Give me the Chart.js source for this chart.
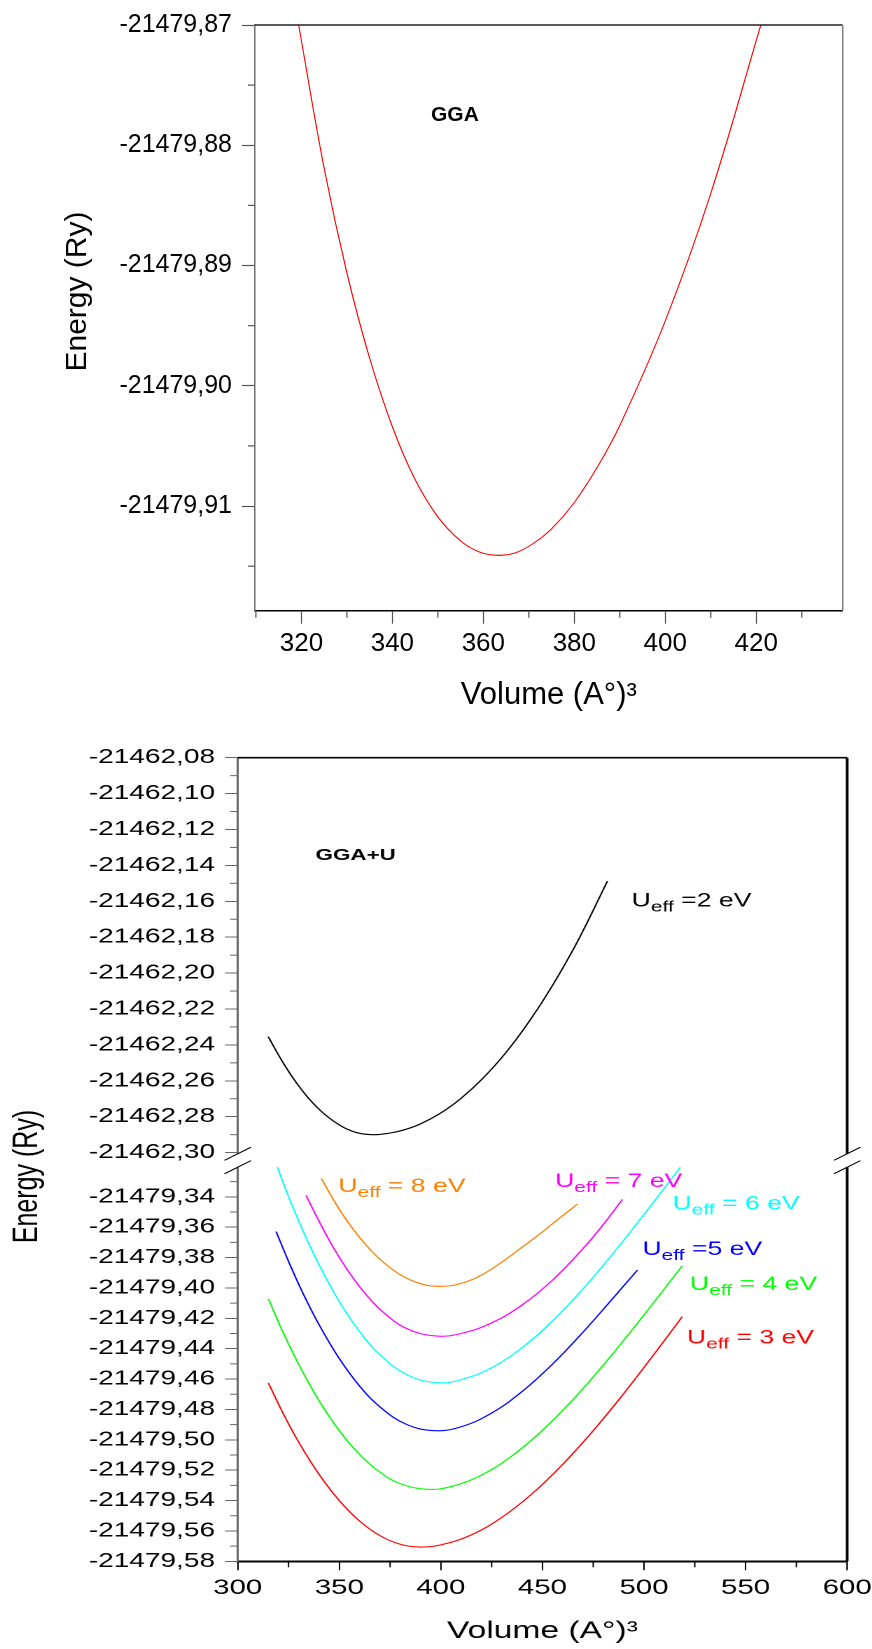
<!DOCTYPE html>
<html>
<head>
<meta charset="utf-8">
<script src="https://cdn.jsdelivr.net/npm/chart.js@4.4.1/dist/chart.umd.min.js"></script>
<style>
  html, body { margin: 0; padding: 0; background: #fff; overflow: hidden; }
  body { width: 872px; height: 1649px; position: relative; }
  #gga { position: absolute; left: 0; top: 0; }
  /* the GGA+U panel of the original is horizontally stretched */
  #ggau { position: absolute; left: 0; top: 720px; transform: scaleX(1.4); transform-origin: 0 0; }
</style>
</head>
<body>
<canvas id="gga" width="872" height="720"></canvas>
<canvas id="ggau" width="640" height="929"></canvas>
<script>
// ---- GGA panel ----
const ggaVol = [319.4, 325, 330, 335, 340, 345, 350, 355, 359, 363.1, 367, 371, 375, 380, 385, 390, 400, 410, 421];
const ggaEnergy = [-21479.8700, -21479.8819, -21479.8906, -21479.8977, -21479.9034, -21479.9078, -21479.9109,
  -21479.9129, -21479.9138, -21479.9141, -21479.9139, -21479.9131, -21479.9119, -21479.9097, -21479.9068,
  -21479.9033, -21479.8946, -21479.8840, -21479.8700];
const ggaXTicks = [320, 340, 360, 380, 400, 420];
const ggaXMinor = [310, 330, 350, 370, 390, 410, 430];
const ggaYTicks = [-21479.87, -21479.88, -21479.89, -21479.90, -21479.91];
const ggaYMinor = [-21479.875, -21479.885, -21479.895, -21479.905, -21479.915];

// ---- GGA+U panel ----
const u2Vol = [315, 322, 330, 340, 350, 358, 366, 374, 382, 390, 400, 410, 420, 432, 443.8, 455, 468, 482];
const u2Energy = [-21462.2354, -21462.2493, -21462.2628, -21462.2758, -21462.2846, -21462.2887, -21462.2900,
  -21462.2893, -21462.2873, -21462.2840, -21462.2779, -21462.2697, -21462.2594, -21462.2443, -21462.2264,
  -21462.2068, -21462.1808, -21462.1487];

const u3Vol = [315.1, 322, 330, 340, 350, 360, 370, 380, 389.7, 400, 415, 430, 445, 460, 475, 490, 505, 518.8];
const u3Energy = [-21479.4626, -21479.4817, -21479.5015, -21479.5227, -21479.5400, -21479.5535, -21479.5631,
  -21479.5688, -21479.5706, -21479.5692, -21479.5626, -21479.5511, -21479.5354, -21479.5161, -21479.4940,
  -21479.4696, -21479.4436, -21479.4190];

const u4Vol = [315.1, 322, 330, 340, 350, 360, 370, 380, 393.5, 405, 420, 435, 450, 465, 480, 495, 508, 518.8];
const u4Energy = [-21479.4072, -21479.4283, -21479.4503, -21479.4742, -21479.4940, -21479.5097, -21479.5213,
  -21479.5289, -21479.5326, -21479.5308, -21479.5232, -21479.5106, -21479.4938, -21479.4736, -21479.4508,
  -21479.4262, -21479.4041, -21479.3855];

const u5Vol = [318.9, 325, 332, 340, 350, 360, 370, 383, 397, 410, 425, 440, 455, 470, 484, 496.8];
const u5Energy = [-21479.3629, -21479.3825, -21479.4032, -21479.4241, -21479.4465, -21479.4646, -21479.4783,
  -21479.4898, -21479.4940, -21479.4914, -21479.4824, -21479.4682, -21479.4501, -21479.4291, -21479.4079, -21479.3882];

const u6Vol = [319.5, 325, 332, 340, 350, 360, 370, 384, 398.5, 410, 425, 440, 455, 470, 485, 500, 510, 517.9];
const u6Energy = [-21479.3205, -21479.3398, -21479.3620, -21479.3847, -21479.4090, -21479.4288, -21479.4440,
  -21479.4576, -21479.4624, -21479.4604, -21479.4525, -21479.4393, -21479.4217, -21479.4006, -21479.3769,
  -21479.3516, -21479.3343, -21479.3205];

const u7Vol = [333.6, 340, 347, 355, 364, 373, 384, 398, 410, 425, 440, 455, 470, 480, 489.4];
const u7Energy = [-21479.3390, -21479.3560, -21479.3732, -21479.3901, -21479.4057, -21479.4176, -21479.4273,
  -21479.4317, -21479.4300, -21479.4230, -21479.4112, -21479.3948, -21479.3741, -21479.3582, -21479.3417];

const u8Vol = [341.2, 348, 355, 363, 371, 380, 389, 399.2, 410, 420, 429.4, 438, 447.4, 457, 467.2];
const u8Energy = [-21479.3280, -21479.3439, -21479.3580, -21479.3715, -21479.3823, -21479.3913, -21479.3968,
  -21479.3990, -21479.3970, -21479.3915, -21479.3836, -21479.3752, -21479.3658, -21479.3556, -21479.3448];

const ggauXTicks = [300, 350, 400, 450, 500, 550, 600];
const ggauXMinor = [325, 375, 425, 475, 525, 575];
const ggauYHighTicks = [-21462.08, -21462.10, -21462.12, -21462.14, -21462.16, -21462.18, -21462.20,
  -21462.22, -21462.24, -21462.26, -21462.28, -21462.30];
const ggauYHighMinor = [-21462.09, -21462.11, -21462.13, -21462.15, -21462.17, -21462.19, -21462.21,
  -21462.23, -21462.25, -21462.27, -21462.29];
const ggauYLowTicks = [-21479.34, -21479.36, -21479.38, -21479.40, -21479.42, -21479.44, -21479.46,
  -21479.48, -21479.50, -21479.52, -21479.54, -21479.56, -21479.58];
const ggauYLowMinor = [-21479.33, -21479.35, -21479.37, -21479.39, -21479.41, -21479.43, -21479.45,
  -21479.47, -21479.49, -21479.51, -21479.53, -21479.55, -21479.57];

const FONT = '"Liberation Sans", Arial, sans-serif';
Chart.defaults.font.family = FONT;
Chart.defaults.color = '#000';

function pts(xs, ys) {
  return xs.map((x, i) => ({ x: x, y: ys[i] }));
}
function fixedTicks(values) {
  return function (scale) { scale.ticks = values.map(v => ({ value: v })); };
}
function commaLabel(v) {
  return v.toFixed(2).replace('.', ',');
}
function curve(xs, ys, color, axis) {
  return {
    data: pts(xs, ys), yAxisID: axis, borderColor: color, borderWidth: 1.1,
    pointRadius: 0, fill: false, tension: 0.4
  };
}

// minor ticks, top/right frame, axis break, in-plot labels and the y title
function makeDecor(cfg) {
  return {
    id: 'decor',
    afterDraw(chart) {
      const ctx = chart.ctx;
      const area = chart.chartArea;
      ctx.save();

      cfg.minor.forEach(m => {
        const s = chart.scales[m.axis];
        ctx.strokeStyle = m.color;
        ctx.lineWidth = m.width;
        m.values.forEach(v => {
          const p = s.getPixelForValue(v);
          ctx.beginPath();
          if (s.isHorizontal()) {
            ctx.moveTo(p, area.bottom);
            ctx.lineTo(p, area.bottom + m.len);
          } else {
            ctx.moveTo(area.left, p);
            ctx.lineTo(area.left - m.len, p);
          }
          ctx.stroke();
        });
      });

      ctx.strokeStyle = cfg.frame.top.color;
      ctx.lineWidth = cfg.frame.top.width;
      ctx.beginPath();
      ctx.moveTo(area.left, area.top);
      ctx.lineTo(area.right, area.top);
      ctx.stroke();
      ctx.strokeStyle = cfg.frame.right.color;
      ctx.lineWidth = cfg.frame.right.width;
      ctx.beginPath();
      ctx.moveTo(area.right, area.top);
      ctx.lineTo(area.right, area.bottom);
      ctx.stroke();

      if (cfg.brk) {
        const b = cfg.brk;
        const yb = chart.scales[b.axis].top;
        [area.left, area.right].forEach(x => {
          ctx.fillStyle = '#fff';
          ctx.fillRect(x - 3, yb - b.gap / 2, 6, b.gap);
          ctx.strokeStyle = '#000';
          ctx.lineWidth = 1;
          [-1, 1].forEach(sg => {
            const yc = yb + sg * b.gap / 2;
            ctx.beginPath();
            ctx.moveTo(x - b.w, yc + b.h);
            ctx.lineTo(x + b.w, yc - b.h);
            ctx.stroke();
          });
        });
      }

      cfg.labels.forEach(lab => {
        let x = chart.scales.x.getPixelForValue(lab.v);
        const y = chart.scales[lab.axis].getPixelForValue(lab.e);
        ctx.fillStyle = lab.color;
        ctx.textAlign = 'left';
        ctx.textBaseline = 'alphabetic';
        lab.parts.forEach((t, i) => {
          const sub = lab.sub && i === 1;
          ctx.font = sub ? lab.subFont : lab.font;
          ctx.fillText(t, x, y + (sub ? lab.drop : 0));
          x += ctx.measureText(t).width;
        });
      });

      if (cfg.yTitle) {
        const t = cfg.yTitle;
        ctx.translate(t.x, t.y);
        ctx.rotate(-Math.PI / 2);
        ctx.font = t.font;
        ctx.fillStyle = '#000';
        ctx.textAlign = 'center';
        ctx.textBaseline = 'middle';
        ctx.fillText(t.text, 0, 0);
      }
      ctx.restore();
    }
  };
}

// ---------- GGA chart ----------
new Chart(document.getElementById('gga'), {
  type: 'line',
  data: { datasets: [curve(ggaVol, ggaEnergy, '#ff0000', 'y')] },
  options: {
    responsive: false,
    animation: false,
    devicePixelRatio: 1,
    layout: { padding: { top: 22.7, right: 29.3, left: 0, bottom: 0 } },
    plugins: { legend: { display: false }, tooltip: { enabled: false } },
    scales: {
      x: {
        type: 'linear', position: 'bottom', min: 309.8, max: 439,
        afterBuildTicks: fixedTicks(ggaXTicks),
        afterFit: s => { s.height = 109.3; },
        ticks: { font: { size: 26 }, padding: 4.7, autoSkip: false, maxRotation: 0, callback: v => String(v) },
        grid: { drawOnChartArea: false, tickLength: 13, tickColor: '#555', tickWidth: 1.2 },
        border: { color: '#000', width: 1.5 },
        title: { display: true, text: 'Volume (A°)³', font: { size: 31 }, padding: { top: 0, bottom: 6 } }
      },
      y: {
        type: 'linear', position: 'left', min: -21479.9187, max: -21479.87,
        afterBuildTicks: fixedTicks(ggaYTicks),
        afterFit: s => { s.width = 255; },
        ticks: { font: { size: 25 }, padding: 10, autoSkip: false, callback: commaLabel },
        grid: { drawOnChartArea: false, tickLength: 13, tickColor: '#555', tickWidth: 1.2 },
        border: { color: '#707070', width: 1.5 }
      }
    }
  },
  plugins: [makeDecor({
    minor: [
      { axis: 'x', values: ggaXMinor, len: 7, color: '#555', width: 1.2 },
      { axis: 'y', values: ggaYMinor, len: 7, color: '#555', width: 1.2 }
    ],
    frame: { top: { color: '#222', width: 1.3 }, right: { color: '#808080', width: 1.5 } },
    labels: [
      { parts: ['GGA'], v: 348.5, e: -21479.878, axis: 'y', color: '#000', font: 'bold 21px ' + FONT }
    ],
    yTitle: { text: 'Energy (Ry)', x: 77.5, y: 291.5, font: '30px ' + FONT }
  })]
});

// ---------- GGA+U chart ----------
const uFont = '19px ' + FONT;
const uSub = '15px ' + FONT;
function uLabel(rest, v, e, axis, color) {
  return { parts: ['U', 'eff', rest], sub: true, v: v, e: e, axis: axis, color: color, font: uFont, subFont: uSub, drop: 5 };
}

new Chart(document.getElementById('ggau'), {
  type: 'line',
  data: {
    datasets: [
      curve(u2Vol, u2Energy, '#000000', 'yHigh'),
      curve(u3Vol, u3Energy, '#ff0000', 'yLow'),
      curve(u4Vol, u4Energy, '#00ff00', 'yLow'),
      curve(u5Vol, u5Energy, '#0000ff', 'yLow'),
      curve(u6Vol, u6Energy, '#00ffff', 'yLow'),
      curve(u7Vol, u7Energy, '#ff00ff', 'yLow'),
      curve(u8Vol, u8Energy, '#ff8000', 'yLow')
    ]
  },
  options: {
    responsive: false,
    animation: false,
    devicePixelRatio: 2,
    layout: { padding: { top: 37.7, right: 34.9, left: 0, bottom: 0 } },
    plugins: { legend: { display: false }, tooltip: { enabled: false } },
    scales: {
      x: {
        type: 'linear', position: 'bottom', min: 300, max: 600,
        afterBuildTicks: fixedTicks(ggauXTicks),
        afterFit: s => { s.height = 87.7; },
        ticks: { font: { size: 21 }, padding: 5.4, autoSkip: false, maxRotation: 0, callback: v => String(v) },
        grid: { drawOnChartArea: false, tickLength: 9, tickColor: '#000', tickWidth: 1 },
        border: { color: '#000', width: 2 },
        title: { display: true, text: 'Volume (A°)³', font: { size: 24 }, padding: { top: 0, bottom: 3 } }
      },
      yHigh: {
        type: 'linear', position: 'left', stack: 'energy', stackWeight: 402.8, weight: 1,
        min: -21462.3044, max: -21462.08,
        afterBuildTicks: fixedTicks(ggauYHighTicks),
        afterFit: s => { s.width = 169.8; },
        ticks: { font: { size: 20 }, padding: 7.2, autoSkip: false, callback: commaLabel },
        grid: { drawOnChartArea: false, tickLength: 9, tickColor: '#666', tickWidth: 1 },
        border: { color: '#666', width: 1.5 }
      },
      yLow: {
        type: 'linear', position: 'left', stack: 'energy', stackWeight: 400.8, weight: 0,
        min: -21479.58, max: -21479.3161,
        afterBuildTicks: fixedTicks(ggauYLowTicks),
        afterFit: s => { s.width = 169.8; },
        ticks: { font: { size: 20 }, padding: 7.2, autoSkip: false, callback: commaLabel },
        grid: { drawOnChartArea: false, tickLength: 9, tickColor: '#666', tickWidth: 1 },
        border: { color: '#666', width: 1.5 }
      }
    }
  },
  plugins: [makeDecor({
    minor: [
      { axis: 'x', values: ggauXMinor, len: 6, color: '#000', width: 1 },
      { axis: 'yHigh', values: ggauYHighMinor, len: 5.5, color: '#666', width: 1 },
      { axis: 'yLow', values: ggauYLowMinor, len: 5.5, color: '#666', width: 1 }
    ],
    frame: { top: { color: '#000', width: 1.6 }, right: { color: '#000', width: 2 } },
    brk: { axis: 'yLow', gap: 13.4, w: 9.5, h: 6.6 },
    labels: [
      { parts: ['GGA+U'], v: 338.3, e: -21462.137, axis: 'yHigh', color: '#000', font: 'bold 16px ' + FONT },
      uLabel(' =2 eV', 493.9, -21462.163, 'yHigh', '#000000'),
      uLabel(' = 8 eV', 349.5, -21479.3369, 'yLow', '#ff8000'),
      uLabel(' = 7 eV', 456.2, -21479.3336, 'yLow', '#ff00ff'),
      uLabel(' = 6 eV', 514.0, -21479.3484, 'yLow', '#00ffff'),
      uLabel(' =5 eV', 499.2, -21479.3784, 'yLow', '#0000ff'),
      uLabel(' = 4 eV', 522.6, -21479.4014, 'yLow', '#00ff00'),
      uLabel(' = 3 eV', 521.1, -21479.4366, 'yLow', '#ff0000')
    ],
    yTitle: { text: 'Energy (Ry)', x: 19.6, y: 456.5, font: '25px ' + FONT }
  })]
});
</script>
</body>
</html>
